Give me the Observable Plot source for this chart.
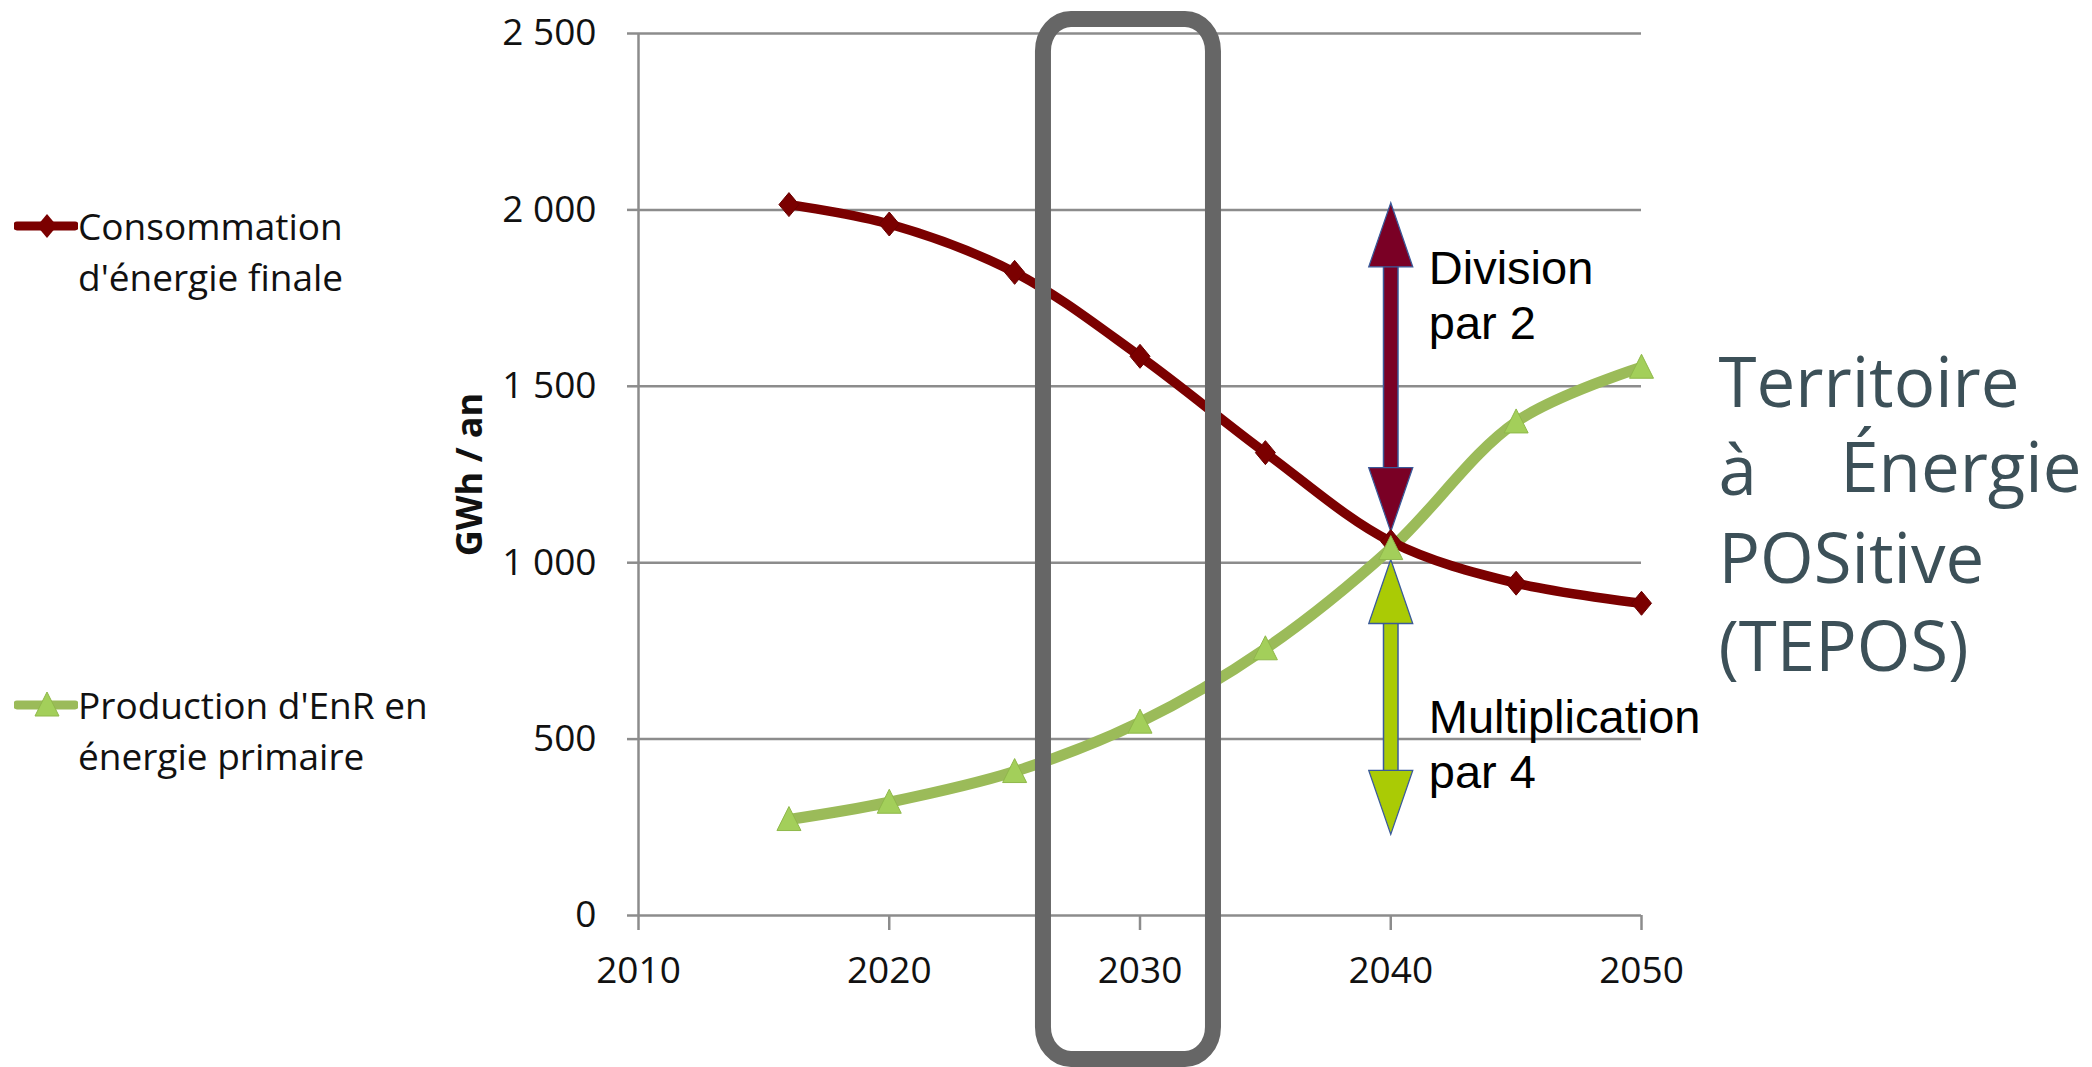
<!DOCTYPE html>
<html>
<head>
<meta charset="utf-8">
<script src="https://cdn.jsdelivr.net/npm/d3@7"></script>
<script src="https://cdn.jsdelivr.net/npm/@observablehq/plot@0.6"></script>
<style>
  html, body { margin: 0; padding: 0; background: #fff; }
  #wrap { position: relative; width: 2092px; height: 1067px; overflow: hidden; }
  #chart { position: absolute; left: 0; top: 0; }
  .legend { position: absolute; left: 14px; font-family: "Open Sans", sans-serif; font-size: 37px; line-height: 51px; color: #111; }
  .legend .row { display: flex; align-items: flex-start; }
  .legend svg { flex: none; margin-top: 6px; }
</style>
</head>
<body>
<div id="wrap">
  <div id="chart"></div>
  <div class="legend" id="legend1" style="top:200px"></div>
  <div class="legend" id="legend2" style="top:679px"></div>
</div>
<script>
// ---- data ----
const years = [2016, 2020, 2025, 2030, 2035, 2040, 2045, 2050];
const consommation = [2015, 1960, 1823, 1585, 1312, 1060, 942, 885];
const production = [272, 321, 408, 548, 756, 1040, 1399, 1554];
const seriesNames = ["Consommation d'énergie finale", "Production d'EnR en énergie primaire"];
const xTicks = [2010, 2020, 2030, 2040, 2050];
const yTicks = [0, 500, 1000, 1500, 2000, 2500];
const yTickLabels = ["0", "500", "1 000", "1 500", "2 000", "2 500"];
const yLabel = "GWh / an";
const arrowX = [2040, 2040];
const arrowTop = [2020, 1009];
const arrowBottom = [1088, 230];
const arrowColors = ["#7a0025", "#aacb05"];
const arrowLabels = ["Division\npar 2", "Multiplication\npar 4"];
const arrowLabelY = [1763, 490];
const boxX = [2026.15, 2032.93];
const boxY = [-408, 2540];
const teposLines = "Territoire\nà\nPOSitive\n(TEPOS)";
const teposRight = "Énergie";

const colRed = "#7b0000";
const colGreen = "#9bbb59";
const colTri = "#a3cf5a";

const rowsC = years.map((yr, i) => ({year: yr, value: consommation[i], serie: seriesNames[0]}));
const rowsP = years.map((yr, i) => ({year: yr, value: production[i], serie: seriesNames[1]}));

const arrows = arrowX.map((x, i) => ({x, top: arrowTop[i], bottom: arrowBottom[i], color: arrowColors[i], label: arrowLabels[i], ly: arrowLabelY[i]}));

// custom symbols
const headUp = {draw(ctx) { ctx.moveTo(0, 0); ctx.lineTo(-22, 64); ctx.lineTo(22, 64); ctx.closePath(); }};
const headDown = {draw(ctx) { ctx.moveTo(0, 0); ctx.lineTo(-22, -64); ctx.lineTo(22, -64); ctx.closePath(); }};
const diamondSym = {draw(ctx) { ctx.moveTo(0, -12); ctx.lineTo(10, 0); ctx.lineTo(0, 12); ctx.lineTo(-10, 0); ctx.closePath(); }};
const triSym = {draw(ctx) { ctx.moveTo(0, -13); ctx.lineTo(12, 11); ctx.lineTo(-12, 11); ctx.closePath(); }};

const chart = Plot.plot({
  width: 2092,
  height: 1067,
  marginLeft: 638,
  marginRight: 451,
  marginTop: 33,
  marginBottom: 152,
  style: {fontFamily: "Open Sans, sans-serif", fontSize: "37px", color: "#111", background: "transparent", overflow: "visible"},
  x: {domain: [2010, 2050], ticks: xTicks},
  y: {domain: [0, 2500], ticks: yTicks},
  marks: [
    Plot.gridY(yTicks, {stroke: "#8c8c8c", strokeOpacity: 1, strokeWidth: 2.5}),
    Plot.ruleX([2010], {stroke: "#8c8c8c", strokeWidth: 2.5}),
    Plot.axisY(yTicks, {tickSize: 11, tickPadding: 31, stroke: "#8c8c8c", strokeWidth: 2.5, tickFormat: (d) => yTickLabels[yTicks.indexOf(d)], label: null}),
    Plot.axisX(xTicks, {tickSize: 15, tickPadding: 26, stroke: "#8c8c8c", strokeWidth: 2.5, tickFormat: (d) => String(d), label: null}),
    Plot.text([yLabel], {frameAnchor: "left", textAnchor: "middle", dx: -168, rotate: -90, fontWeight: "bold", fontSize: 36, fill: "#111"}),
    // arrows
    Plot.ruleX(arrows, {x: "x", y1: "top", y2: "bottom", stroke: "#3a5a9a", strokeWidth: 16, insetTop: 62, insetBottom: 62}),
    Plot.ruleX(arrows, {x: "x", y1: "top", y2: "bottom", stroke: "color", strokeWidth: 13, insetTop: 60, insetBottom: 60}),
    Plot.dot(arrows, {x: "x", y: "top", symbol: headUp, fill: "color", stroke: "#3a5a9a", strokeWidth: 1.3}),
    Plot.dot(arrows, {x: "x", y: "bottom", symbol: headDown, fill: "color", stroke: "#3a5a9a", strokeWidth: 1.3}),
    Plot.text(arrows, {x: "x", y: "ly", text: "label", textAnchor: "start", dx: 38, fontFamily: "Liberation Sans, Arial, sans-serif", fontSize: 47, lineHeight: 1.17, fill: "#000"}),
    // series
    Plot.line(rowsP, {x: "year", y: "value", stroke: colGreen, strokeWidth: 11, curve: "catmull-rom"}),
    Plot.line(rowsC, {x: "year", y: "value", stroke: colRed, strokeWidth: 9.5, curve: "catmull-rom"}),
    Plot.dot(rowsC, {x: "year", y: "value", symbol: diamondSym, fill: colRed, stroke: "#6a0000", strokeWidth: 1}),
    Plot.dot(rowsP, {x: "year", y: "value", symbol: triSym, fill: colTri, stroke: "#8fb84a", strokeWidth: 1}),
    // highlight box
    Plot.rect([0], {x1: boxX[0], x2: boxX[1], y1: boxY[0], y2: boxY[1], rx: 28, ry: 32, fill: "none", stroke: "#666666", strokeWidth: 16}),
    // TEPOS annotation
    Plot.text([teposLines], {x: 2050, y: 1148, textAnchor: "start", dx: 77, fontSize: 69, lineHeight: 1.275, fill: "#3c5058"}),
    Plot.text([teposRight], {x: 2050, y: 1262, textAnchor: "end", dx: 440, fontSize: 69, fill: "#3c5058"})
  ]
});
document.getElementById("chart").appendChild(chart);

// legend
function swatch(color, symbol) {
  const s = d3.create("svg").attr("width", 64).attr("height", 40);
  s.append("line").attr("x1", 3).attr("x2", 61).attr("y1", 20).attr("y2", 20)
    .attr("stroke", color).attr("stroke-width", 9).attr("stroke-linecap", "round");
  if (symbol === "diamond") {
    s.append("path").attr("transform", "translate(33,20)").attr("d", "M0,-12L10,0L0,12L-10,0Z").attr("fill", colRed);
  } else {
    s.append("path").attr("transform", "translate(33,20)").attr("d", "M0,-13L12,11L-12,11Z").attr("fill", colTri).attr("stroke", "#8fb84a");
  }
  return s.node();
}
function legendItem(id, color, symbol, lines) {
  const el = document.getElementById(id);
  const row = document.createElement("div");
  row.className = "row";
  row.appendChild(swatch(color, symbol));
  const t = document.createElement("div");
  t.innerHTML = lines.join("<br>");
  row.appendChild(t);
  el.appendChild(row);
}
legendItem("legend1", colRed, "diamond", ["Consommation", "d'énergie finale"]);
legendItem("legend2", colGreen, "triangle", ["Production d'EnR en", "énergie primaire"]);
</script>
</body>
</html>
